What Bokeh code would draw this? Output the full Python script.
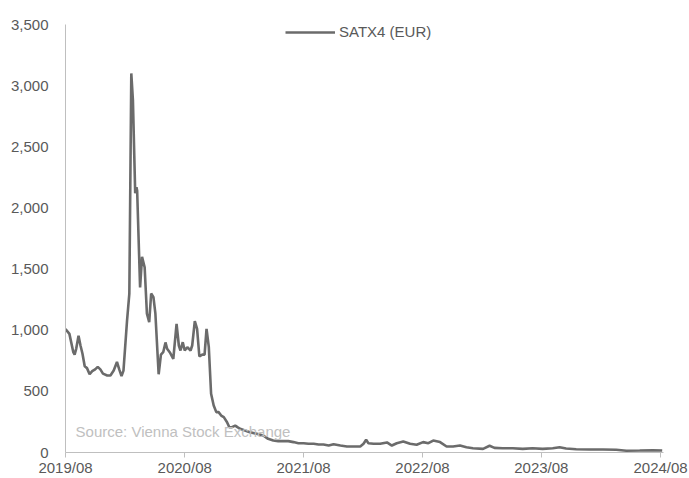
import pandas as pd
from bokeh.plotting import figure
from bokeh.models import (FixedTicker, DatetimeTickFormatter, NumeralTickFormatter,
                          Label, Legend, LegendItem, Range1d, ColumnDataSource)
from bokeh.embed import file_html
from bokeh.resources import INLINE

SERIES_NAME = "SATX4 (EUR)"
SOURCE_TEXT = "Source: Vienna Stock Exchange"

DATES = [
    "2019-08-01", "2019-08-13", "2019-08-25", "2019-08-29", "2019-09-03", "2019-09-10", "2019-09-16",
    "2019-09-22", "2019-09-29", "2019-10-06", "2019-10-14", "2019-10-22", "2019-10-31", "2019-11-08",
    "2019-11-16", "2019-11-24", "2019-12-07", "2019-12-17", "2019-12-27",
    "2020-01-06", "2020-01-13", "2020-01-20", "2020-01-26", "2020-02-06", "2020-02-13", "2020-02-19",
    "2020-02-24", "2020-03-02", "2020-03-06", "2020-03-08", "2020-03-17", "2020-03-23", "2020-03-31",
    "2020-04-07", "2020-04-14", "2020-04-20", "2020-04-27", "2020-05-03", "2020-05-13", "2020-05-20",
    "2020-05-27", "2020-06-03", "2020-06-08", "2020-06-16", "2020-06-27", "2020-07-07", "2020-07-14",
    "2020-07-19", "2020-07-26", "2020-08-01", "2020-08-09", "2020-08-19", "2020-08-24", "2020-09-01",
    "2020-09-08", "2020-09-15", "2020-09-24", "2020-10-01", "2020-10-07", "2020-10-14", "2020-10-21",
    "2020-10-29", "2020-11-06", "2020-11-13", "2020-11-21", "2020-11-29", "2020-12-09", "2020-12-16",
    "2020-12-24",
    "2021-01-03", "2021-01-10", "2021-01-18", "2021-02-02", "2021-02-17", "2021-03-10", "2021-03-30",
    "2021-04-14", "2021-04-30", "2021-05-15", "2021-05-31", "2021-06-15", "2021-07-01", "2021-07-16",
    "2021-08-01", "2021-08-16", "2021-09-01", "2021-09-16", "2021-10-01", "2021-10-17", "2021-11-01",
    "2021-11-22", "2021-12-12",
    "2022-01-01", "2022-01-22", "2022-02-01", "2022-02-09", "2022-02-16", "2022-03-04", "2022-03-24",
    "2022-04-14", "2022-04-29", "2022-05-14", "2022-06-03", "2022-06-24", "2022-07-14", "2022-08-03",
    "2022-08-19", "2022-09-03", "2022-09-24", "2022-10-14", "2022-11-03", "2022-11-24", "2022-12-14",
    "2023-01-03", "2023-02-03", "2023-02-23", "2023-03-10", "2023-04-04", "2023-05-05", "2023-06-05",
    "2023-07-05", "2023-08-05", "2023-09-05", "2023-09-26", "2023-10-16", "2023-11-16", "2023-12-27",
    "2024-02-06", "2024-03-18", "2024-04-18", "2024-05-29", "2024-07-08", "2024-08-06",
]

VALUES = [
    1010, 970, 820, 800, 850, 955, 875, 810, 705, 690, 640, 665, 680, 700, 680, 645, 630, 630, 670,
    740, 680, 625, 670, 1080, 1300, 3100, 2880, 2120, 2170, 2140, 1350, 1600, 1515,
    1135, 1065, 1300, 1270, 1135, 640, 800, 820, 900, 848, 820, 766, 1052, 875, 834, 902,
    834, 861, 834, 875, 1074, 1011, 785, 800, 800, 1011, 861, 480, 384, 330, 330, 302, 289,
    248, 207, 207,
    220, 207, 194, 180, 166, 153, 139, 112, 98, 93, 93, 93, 85, 76, 76, 71, 71, 65, 65, 57, 68, 57, 49,
    49, 49, 71, 104, 76, 71, 71, 82, 57, 76, 90, 71, 63, 85, 76, 98, 85, 49, 49, 57, 43,
    35, 30, 55, 38, 35, 35, 30, 35, 30, 35, 43, 33, 27, 25,
    25, 22, 14, 16, 19, 16,
]

X_TICK_DATES = ["2019-08-01", "2020-08-01", "2021-08-01", "2022-08-01", "2023-08-01", "2024-08-01"]
Y_TICKS = [0, 500, 1000, 1500, 2000, 2500, 3000, 3500]

X_START = "2019-08-01"
X_END = "2024-08-10"
SOURCE_AT = ("2019-09-01", 172)


def ms(d):
    return pd.Timestamp(d).value / 1e6


FONT = "Liberation Sans"
TXT = "#595959"
AXC = "#bfbfbf"

src = ColumnDataSource(dict(x=pd.to_datetime(DATES), y=VALUES))

p = figure(width=689, height=478, x_axis_type="datetime", output_backend="svg",
           toolbar_location=None,
           x_range=Range1d(ms(X_START), ms(X_END)), y_range=Range1d(0, 3500),
           min_border_left=65, min_border_right=26, min_border_top=24, min_border_bottom=24)
p.outline_line_color = None
p.grid.visible = False
p.background_fill_color = "white"
p.border_fill_color = "white"

r = p.line("x", "y", source=src, line_color="#6b6b6b", line_width=2.6)

# y axis
ya = p.yaxis[0]
ya.ticker = FixedTicker(ticks=Y_TICKS)
ya.formatter = NumeralTickFormatter(format="0,0")
ya.major_tick_out = 0
ya.major_tick_in = 0
ya.minor_tick_out = 0
ya.minor_tick_in = 0
ya.axis_line_color = AXC
ya.major_label_standoff = 17
ya.major_label_text_font = FONT
ya.major_label_text_font_size = "15px"
ya.major_label_text_color = TXT

# x axis
xa = p.xaxis[0]
xa.ticker = FixedTicker(ticks=[ms(d) for d in X_TICK_DATES])
fmt = "%Y/%m"
xa.formatter = DatetimeTickFormatter(years=fmt, months=fmt, days=fmt, hours=fmt, minutes=fmt,
                                     seconds=fmt, milliseconds=fmt, microseconds=fmt,
                                     hourmin=fmt, minsec=fmt)
xa.major_tick_out = 5
xa.major_tick_in = 0
xa.minor_tick_out = 0
xa.minor_tick_in = 0
xa.axis_line_color = AXC
xa.major_tick_line_color = AXC
xa.major_label_standoff = 1
xa.major_label_text_font = FONT
xa.major_label_text_font_size = "15px"
xa.major_label_text_color = TXT

legend = Legend(items=[LegendItem(label=SERIES_NAME, renderers=[r])],
                location=(220, 412), orientation="horizontal",
                border_line_alpha=0, background_fill_alpha=0,
                glyph_width=50, glyph_height=16, label_standoff=4,
                padding=0, margin=0, label_height=16,
                label_text_font=FONT, label_text_font_size="15px", label_text_color=TXT)
p.add_layout(legend)

p.add_layout(Label(x=ms(SOURCE_AT[0]), y=SOURCE_AT[1], text=SOURCE_TEXT,
                   text_baseline="alphabetic",
                   text_font=FONT, text_font_size="15px", text_color="#c0c0c0"))

open("out.html", "w").write(file_html(p, INLINE))
